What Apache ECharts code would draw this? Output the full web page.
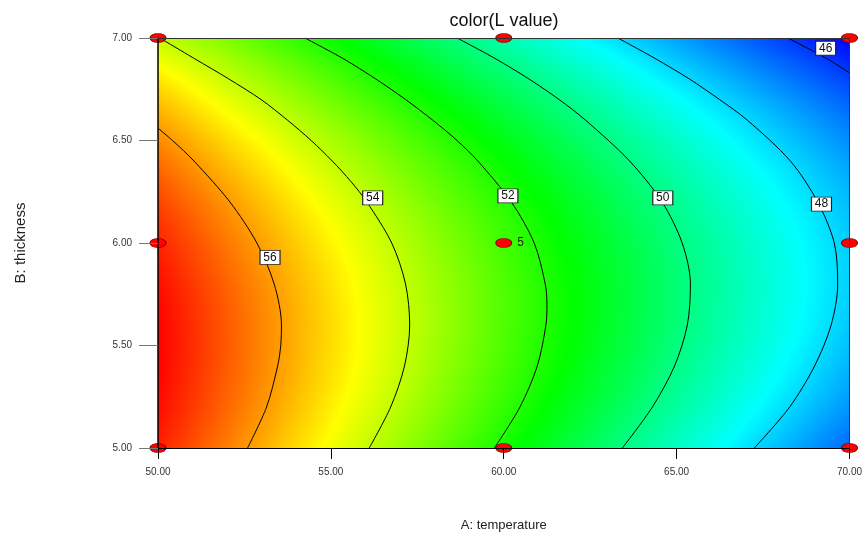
<!DOCTYPE html>
<html><head><meta charset="utf-8">
<script src="https://cdn.jsdelivr.net/npm/echarts@6/dist/echarts.min.js"></script>
<style>html,body{margin:0;padding:0;background:#fff}#c{width:865px;height:537px}</style>
</head><body><div id="c"></div>
<script>
// A: temperature grid columns, B: thickness grid rows
const A_VALUES = [50,52,54,56,58,60,62,64,66,68,70];
const B_VALUES = [5.0,5.1,5.2,5.3,5.4,5.5,5.6,5.7,5.8,5.9,6.0,6.1,6.2,6.3,6.4,6.5,6.6,6.7,6.8,6.9,7.0];
// L value, one row per B value (bottom to top)
const L_GRID = [
  [57.51,56.34,55.19,54.06,52.95,51.85,50.77,49.69,48.65,47.61,46.59],
  [57.65,56.50,55.37,54.24,53.15,52.06,51.00,49.94,48.91,47.89,46.89],
  [57.76,56.63,55.50,54.40,53.31,52.25,51.19,50.15,49.14,48.13,47.15],
  [57.84,56.72,55.61,54.51,53.44,52.39,51.35,50.33,49.32,48.34,47.37],
  [57.89,56.77,55.68,54.60,53.54,52.50,51.47,50.46,49.48,48.51,47.55],
  [57.90,56.80,55.71,54.65,53.60,52.57,51.56,50.56,49.59,48.63,47.69],
  [57.88,56.79,55.72,54.66,53.63,52.61,51.61,50.63,49.67,48.73,47.80],
  [57.83,56.75,55.69,54.64,53.62,52.62,51.63,50.66,49.71,48.78,47.87],
  [57.74,56.67,55.62,54.58,53.58,52.59,51.61,50.65,49.72,48.80,47.90],
  [57.62,56.56,55.52,54.50,53.50,52.52,51.55,50.61,49.69,48.78,47.89],
  [57.47,56.42,55.39,54.37,53.39,52.42,51.46,50.53,49.62,48.72,47.85],
  [57.28,56.24,55.22,54.21,53.24,52.28,51.33,50.41,49.51,48.63,47.76],
  [57.06,56.03,55.02,54.02,53.05,52.10,51.17,50.26,49.37,48.50,47.64],
  [56.81,55.79,54.78,53.79,52.84,51.90,50.97,50.07,49.19,48.33,47.49],
  [56.53,55.51,54.51,53.53,52.58,51.65,50.74,49.84,48.97,48.12,47.29],
  [56.21,55.20,54.21,53.24,52.30,51.37,50.47,49.58,48.72,47.88,47.06],
  [55.86,54.86,53.87,52.91,51.97,51.06,50.16,49.28,48.43,47.60,46.79],
  [55.48,54.48,53.50,52.54,51.61,50.71,49.82,48.95,48.10,47.28,46.48],
  [55.06,54.07,53.10,52.14,51.22,50.32,49.44,48.57,47.74,46.93,46.13],
  [54.55,53.62,52.66,51.71,50.79,49.90,49.02,48.17,47.34,46.53,45.74],
  [54.03,53.15,52.18,51.24,50.33,49.44,48.57,47.72,46.90,46.10,45.32]
];
// contour lines [A, B]
const contour56 = [[52.59,5.0],[53.14,5.2],[53.46,5.4],[53.55,5.5],[53.57,5.6],[53.36,5.8],[52.86,6.0],[52.08,6.2],[51.04,6.4],[50.42,6.5],[50.0,6.56]];
const contour54 = [[56.11,5.0],[56.73,5.2],[57.13,5.4],[57.28,5.6],[57.16,5.8],[56.76,6.0],[56.04,6.2],[55.58,6.3],[55.04,6.4],[54.43,6.5],[53.74,6.6],[52.98,6.7],[52.05,6.8],[51.05,6.9],[50.05,7.0]];
const contour52 = [[59.73,5.0],[60.47,5.2],[60.97,5.4],[61.22,5.6],[61.25,5.7],[61.20,5.8],[60.88,6.0],[60.22,6.2],[59.25,6.4],[58.65,6.5],[57.94,6.6],[57.16,6.7],[56.30,6.8],[55.35,6.9],[54.25,7.0]];
const contour50 = [[63.43,5.0],[64.30,5.2],[64.94,5.4],[65.31,5.6],[65.40,5.8],[65.16,6.0],[64.58,6.2],[63.64,6.4],[62.36,6.6],[61.60,6.7],[60.73,6.8],[59.75,6.9],[58.65,7.0]];
const contour48 = [[67.25,5.0],[68.27,5.2],[68.99,5.4],[69.47,5.6],[69.66,5.8],[69.56,6.0],[69.08,6.2],[68.29,6.4],[67.04,6.6],[66.24,6.7],[65.37,6.8],[64.38,6.9],[63.30,7.0]];
const contour46 = [[68.22,7.0],[69.34,6.9],[70.0,6.83]];
const CONTOURS = [contour56, contour54, contour52, contour50, contour48, contour46];
// contour labels [A, B, text]
const CONTOUR_LABELS = [[53.24,5.93,'56'],[56.21,6.22,'54'],[60.12,6.23,'52'],[64.60,6.22,'50'],[69.19,6.19,'48'],[69.31,6.95,'46']];
// design points [A, B] and their replicate counts
const DESIGN_POINTS = [[50,5],[50,6],[50,7],[60,5],[60,6],[60,7],[70,5],[70,6],[70,7]];
const REPLICATES = [1,1,1,1,5,1,1,1,1];
const X_TICKS = [50,55,60,65,70];
const Y_TICKS = [5.0,5.5,6.0,6.5,7.0];

const FONT = 'Liberation Sans, Arial, sans-serif';
const COLOR_STOPS = [[0,0,255],[0,255,255],[0,255,0],[255,255,0],[255,0,0]];
let lo = Infinity, hi = -Infinity;
L_GRID.forEach(r => r.forEach(v => { lo = Math.min(lo, v); hi = Math.max(hi, v); }));
const KNOTS = [1,2,3].map(k => lo + k * (hi - lo) / 4);
function colorOf(v) {
  let t = (v - lo) / (hi - lo) * 4;
  t = Math.max(0, Math.min(4, t));
  const k = Math.min(3, Math.floor(t));
  const f = t - k;
  const c0 = COLOR_STOPS[k], c1 = COLOR_STOPS[k + 1];
  return 'rgb(' + [0,1,2].map(i => Math.round(c0[i] + (c1[i] - c0[i]) * f)).join(',') + ')';
}
// one cell per pair of neighbouring grid points: [A0, A1, B0, B1, v00, v10, v01, v11]
const cells = [];
for (let j = 0; j < B_VALUES.length - 1; j++) {
  for (let i = 0; i < A_VALUES.length - 1; i++) {
    cells.push([A_VALUES[i], A_VALUES[i + 1], B_VALUES[j], B_VALUES[j + 1],
      L_GRID[j][i], L_GRID[j][i + 1], L_GRID[j + 1][i], L_GRID[j + 1][i + 1]]);
  }
}

const chart = echarts.init(document.getElementById('c'), null, {renderer: 'canvas'});
const xMin = X_TICKS[0], xMax = X_TICKS[X_TICKS.length - 1];
const yMin = Y_TICKS[0], yMax = Y_TICKS[Y_TICKS.length - 1];

function cellShade(api) {
  const a0 = api.value(0), a1 = api.value(1), b0 = api.value(2), b1 = api.value(3);
  const v00 = api.value(4), v10 = api.value(5), v01 = api.value(6), v11 = api.value(7);
  const pTL = api.coord([a0, b1]), pBR = api.coord([a1, b0]);
  const W = pBR[0] - pTL[0], H = pBR[1] - pTL[1];
  const gu = ((v10 - v00) + (v11 - v01)) / 2, gw = ((v01 - v00) + (v11 - v10)) / 2;
  const vc = (v00 + v10 + v01 + v11) / 4;
  const dx = gu / W, dy = -gw / H;
  const s = Math.hypot(dx, dy);
  const cx = pTL[0] + W / 2, cy = pTL[1] + H / 2;
  let fill;
  if (s < 1e-9) {
    fill = colorOf(vc);
  } else {
    const ux = dx / s, uy = dy / s;
    const t = (Math.abs(ux) * W + Math.abs(uy) * H) / 2;
    const vs = vc - t * s, ve = vc + t * s;
    const stops = [{offset: 0, color: colorOf(vs)}];
    KNOTS.forEach(k => { if ((k - vs) * (k - ve) < 0) stops.push({offset: (k - vs) / (ve - vs), color: colorOf(k)}); });
    stops.push({offset: 1, color: colorOf(ve)});
    stops.sort((p, q) => p.offset - q.offset);
    fill = new echarts.graphic.LinearGradient(cx - ux * t, cy - uy * t, cx + ux * t, cy + uy * t, stops, true);
  }
  return {type: 'rect', shape: {x: pTL[0] - 0.4, y: pTL[1] - 0.4, width: W + 0.8, height: H + 0.8}, style: {fill: fill}};
}

const series = [{
  type: 'custom', z: 1, clip: true, silent: true,
  encode: {x: [0, 1], y: [2, 3]},
  data: cells,
  renderItem: function (params, api) { return cellShade(api); }
}];
CONTOURS.forEach(c => series.push({
  type: 'line', data: c, smooth: 0.3, symbol: 'none', z: 3, silent: true,
  lineStyle: {color: '#000', width: 1}
}));
series.push({
  type: 'scatter', z: 5, symbol: 'rect', symbolSize: [20, 14], silent: true,
  itemStyle: {color: '#ffffff', borderColor: '#222', borderWidth: 1, opacity: 1},
  data: CONTOUR_LABELS,
  label: {show: true, position: 'inside', formatter: p => p.value[2], color: '#111', fontFamily: FONT, fontSize: 12}
});
series.push({
  type: 'scatter', z: 6, symbol: 'circle', symbolSize: [16, 9], silent: true,
  itemStyle: {color: '#ff0000', borderColor: '#700', borderWidth: 0.8, opacity: 1},
  data: DESIGN_POINTS.map((p, i) => ({
    value: p,
    label: {show: REPLICATES[i] > 1, position: 'right', distance: 5, formatter: String(REPLICATES[i]),
      color: '#222', fontFamily: FONT, fontSize: 12}
  }))
});

chart.setOption({
  animation: false,
  grid: {left: 158, right: 15, top: 38, bottom: 87},
  graphic: [{type: 'text', x: 504, y: 21, z: 10,
    style: {text: 'color(L value)', fill: '#111', font: '18px ' + FONT, textAlign: 'center', textVerticalAlign: 'middle'}}],
  xAxis: [{
    type: 'value', min: xMin, max: xMax, interval: 5, z: 10,
    name: 'A: temperature', nameLocation: 'middle', nameGap: 71,
    nameTextStyle: {fontFamily: FONT, fontSize: 13, color: '#222'},
    axisLine: {show: true, lineStyle: {color: '#000', width: 1}},
    axisTick: {show: true, length: 11, lineStyle: {color: '#000'}},
    axisLabel: {fontFamily: FONT, fontSize: 10, color: '#333', margin: 19, formatter: v => v.toFixed(2)},
    splitLine: {show: false}
  }, {
    type: 'value', position: 'top', min: xMin, max: xMax, z: 10,
    axisLine: {show: true, lineStyle: {color: '#333', width: 1}},
    axisTick: {show: false}, axisLabel: {show: false}, splitLine: {show: false}
  }],
  yAxis: [{
    type: 'value', min: yMin, max: yMax, interval: 0.5, z: 10,
    name: 'B: thickness', nameLocation: 'middle', nameGap: 130, nameRotate: 90,
    nameTextStyle: {fontFamily: FONT, fontSize: 15, color: '#222'},
    axisLine: {show: true, lineStyle: {color: '#000', width: 1.5}},
    axisTick: {show: true, length: 19, lineStyle: {color: '#777'}},
    axisLabel: {fontFamily: FONT, fontSize: 10, color: '#333', margin: 26, formatter: v => v.toFixed(2)},
    splitLine: {show: false}
  }, {
    type: 'value', position: 'right', min: yMin, max: yMax, z: 10,
    axisLine: {show: true, lineStyle: {color: '#333', width: 1}},
    axisTick: {show: false}, axisLabel: {show: false}, splitLine: {show: false}
  }],
  series: series
});
</script></body></html>
